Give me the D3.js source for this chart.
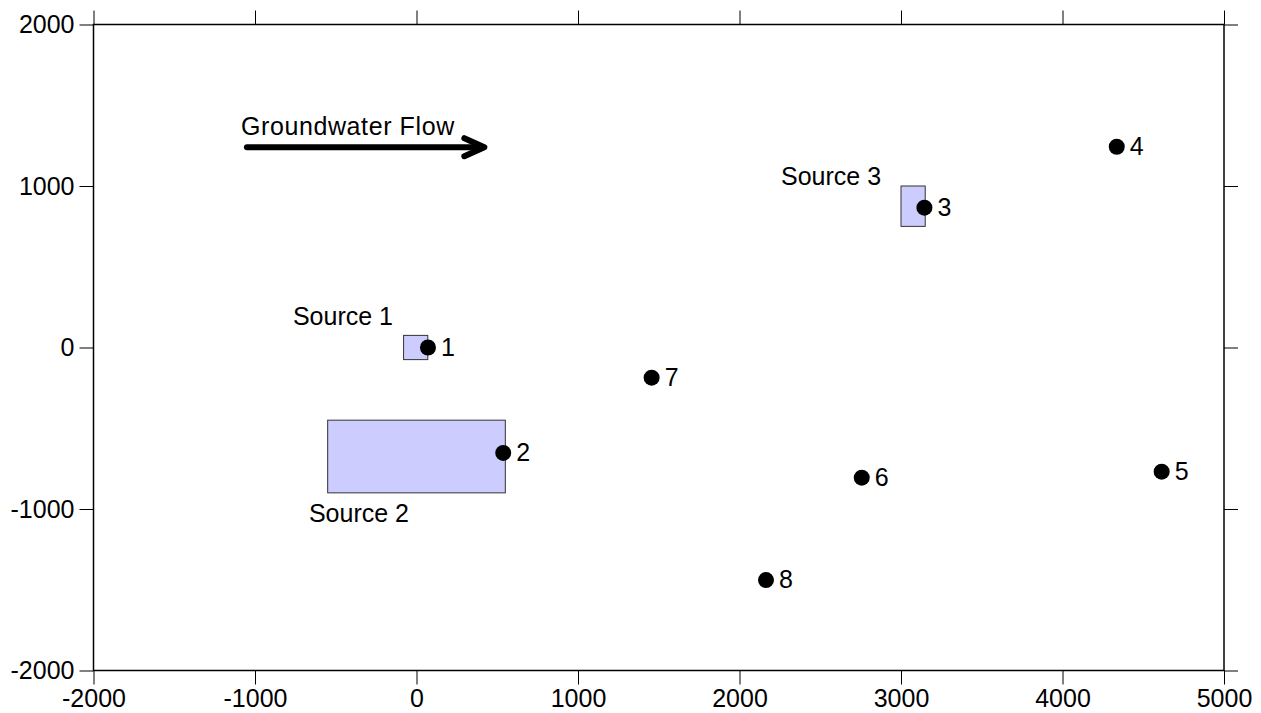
<!DOCTYPE html>
<html>
<head>
<meta charset="utf-8">
<script src="https://cdn.jsdelivr.net/npm/d3@7"></script>
<style>
  html, body { margin: 0; padding: 0; background: #fff; }
  svg { display: block; font-family: "Liberation Sans", Arial, sans-serif; }
</style>
</head>
<body>
<svg id="chart" width="1261" height="713"></svg>
<script>
// ---- data ----
const xTicks = [-2000, -1000, 0, 1000, 2000, 3000, 4000, 5000];
const yTicks = [-2000, -1000, 0, 1000, 2000];

const wellLabels = ["1", "2", "3", "4", "5", "6", "7", "8"];
const wellX = [71, 537, 3145, 4336, 4614, 2757, 1456, 2164];
const wellY = [0, -653, 866, 1243, -769, -806, -187, -1440];

const sourceNames = ["Source 1", "Source 2", "Source 3"];
const sourceX0 = [-80, -550, 3000];
const sourceX1 = [70, 550, 3150];
const sourceY0 = [-75, -900, 750];
const sourceY1 = [75, -450, 1000];
const sourceLabelX = [-765, -666, 2257];
const sourceLabelY = [139, -1079, 1006];

const flowLabel = "Groundwater Flow";
const flowLabelX = -1087, flowLabelY = 1316;
const flowStartX = -1050, flowEndX = 420, flowY = 1240;

// ---- layout ----
const svg = d3.select("#chart");
const mLeft = 93.5, mRight = 1224, mTop = 24.5, mBottom = 670.5;
const x = d3.scaleLinear().domain([-2000, 5000]).range([mLeft, mRight]);
const y = d3.scaleLinear().domain([-2000, 2000]).range([mBottom, mTop]);
const fs = 25;
const fmt = d => String(d); // plain hyphen-minus

// axes (ticks on all sides, outward)
const tickLen = 14;
const axB = svg.append("g").attr("transform", `translate(0,${mBottom})`)
  .call(d3.axisBottom(x).tickValues(xTicks).tickSize(tickLen).tickPadding(4).tickFormat(fmt));
const axT = svg.append("g").attr("transform", `translate(0,${mTop})`)
  .call(d3.axisTop(x).tickValues(xTicks).tickSize(tickLen).tickFormat(""));
const axL = svg.append("g").attr("transform", `translate(${mLeft},0)`)
  .call(d3.axisLeft(y).tickValues(yTicks).tickSize(tickLen).tickPadding(5).tickFormat(fmt));
const axR = svg.append("g").attr("transform", `translate(${mRight},0)`)
  .call(d3.axisRight(y).tickValues(yTicks).tickSize(tickLen).tickFormat(""));
[axB, axT, axL, axR].forEach(a => {
  a.select(".domain").remove();
  a.selectAll(".tick line").attr("stroke", "#000").attr("stroke-width", 1);
  a.selectAll("text").attr("fill", "#000").attr("font-size", fs)
    .attr("font-family", "'Liberation Sans', Arial, sans-serif");
});
axB.selectAll("text").attr("dy", "0.74em");

// frame
svg.append("rect").attr("x", mLeft).attr("y", mTop)
  .attr("width", mRight - mLeft).attr("height", mBottom - mTop)
  .attr("fill", "none").attr("stroke", "#000").attr("stroke-width", 1.5);

// sources
const sources = sourceNames.map((n, i) => ({
  name: n, x0: sourceX0[i], x1: sourceX1[i], y0: sourceY0[i], y1: sourceY1[i],
  lx: sourceLabelX[i], ly: sourceLabelY[i]
}));
svg.append("g").selectAll("rect").data(sources).join("rect")
  .attr("x", d => x(d.x0)).attr("y", d => y(d.y1))
  .attr("width", d => x(d.x1) - x(d.x0)).attr("height", d => y(d.y0) - y(d.y1))
  .attr("fill", "#ccccff").attr("stroke", "#333").attr("stroke-width", 1);
svg.append("g").selectAll("text").data(sources).join("text")
  .attr("x", d => x(d.lx)).attr("y", d => y(d.ly))
  .attr("font-size", fs).attr("fill", "#000").text(d => d.name);

// wells
const wells = wellLabels.map((l, i) => ({ label: l, x: wellX[i], y: wellY[i] }));
svg.append("g").selectAll("circle").data(wells).join("circle")
  .attr("cx", d => x(d.x)).attr("cy", d => y(d.y)).attr("r", 8).attr("fill", "#000");
svg.append("g").selectAll("text").data(wells).join("text")
  .attr("x", d => x(d.x) + 13).attr("y", d => y(d.y) + 8)
  .attr("font-size", fs).attr("fill", "#000").text(d => d.label);

// flow arrow
const ay = y(flowY), ax1 = x(flowEndX);
svg.append("line").attr("x1", x(flowStartX)).attr("x2", ax1 - 2)
  .attr("y1", ay).attr("y2", ay)
  .attr("stroke", "#000").attr("stroke-width", 6).attr("stroke-linecap", "round");
svg.append("path")
  .attr("d", `M${ax1 - 20},${ay - 9} L${ax1},${ay} L${ax1 - 20},${ay + 9}`)
  .attr("fill", "none").attr("stroke", "#000").attr("stroke-width", 6)
  .attr("stroke-linecap", "round").attr("stroke-linejoin", "round");
svg.append("text").attr("x", x(flowLabelX)).attr("y", y(flowLabelY))
  .attr("font-size", fs).attr("letter-spacing", 0.6).attr("fill", "#000").text(flowLabel);
</script>
</body>
</html>
